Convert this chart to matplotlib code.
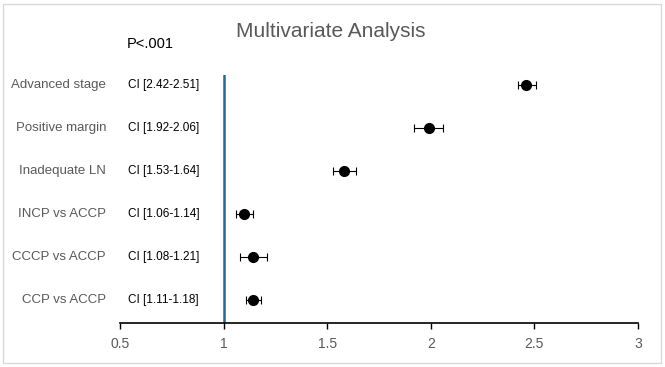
import matplotlib
matplotlib.use('Agg')
import matplotlib.pyplot as plt
from matplotlib.patches import Rectangle

# Dados (de baixo para cima)
categorias = ["CCP vs ACCP", "CCCP vs ACCP", "INCP vs ACCP",
              "Inadequate LN", "Positive margin", "Advanced stage"]
odds = [1.14, 1.14, 1.10, 1.58, 1.99, 2.46]
ci_low = [1.11, 1.08, 1.06, 1.53, 1.92, 2.42]
ci_high = [1.18, 1.21, 1.14, 1.64, 2.06, 2.51]
ci_textos = ["CI [1.11-1.18]", "CI [1.08-1.21]", "CI [1.06-1.14]",
             "CI [1.53-1.64]", "CI [1.92-2.06]", "CI [2.42-2.51]"]
x_ticks = [0.5, 1, 1.5, 2, 2.5, 3]

plt.rcParams['font.family'] = ['Liberation Sans', 'DejaVu Sans']

fig = plt.figure(figsize=(6.65, 3.67), dpi=100)
ax = fig.add_axes([0.1805, 0.119, 0.7789, 0.677])

y = list(range(1, len(categorias) + 1))
erro = [[o - l for o, l in zip(odds, ci_low)], [h - o for o, h in zip(odds, ci_high)]]
ax.errorbar(odds, y, xerr=erro, fmt='o', color='black', markersize=7,
            elinewidth=0.8, capsize=3, capthick=0.8, zorder=3)
ax.axvline(1, color='#1f6b96', linewidth=1.8, zorder=2)

ax.set_xlim(0.5, 3)
ax.set_ylim(0.46, 6.23)
ax.set_xticks(x_ticks)
ax.set_xticklabels([f"{t:g}" for t in x_ticks])
ax.tick_params(axis='x', direction='out', length=4, width=1, colors='black',
               labelcolor='#595959', labelsize=10, pad=6)
ax.set_yticks([])
for s in ['top', 'right', 'left']:
    ax.spines[s].set_visible(False)
ax.spines['bottom'].set_linewidth(1.2)

# Rótulos das categorias e intervalos de confiança
for yi, cat, ci in zip(y, categorias, ci_textos):
    ax.annotate(cat, xy=(0, yi), xycoords=('axes fraction', 'data'),
                xytext=(-14, 0), textcoords='offset pixels',
                ha='right', va='center', fontsize=9.5, color='#595959')
    ax.annotate(ci, xy=(0, yi), xycoords=('axes fraction', 'data'),
                xytext=(8, 0), textcoords='offset pixels',
                ha='left', va='center', fontsize=8.5, color='black')

fig.text(0.497, 0.915, "Multivariate Analysis", ha='center', va='center',
         fontsize=15, color='#595959')
fig.text(0.19, 0.88, "P<.001", ha='left', va='center', fontsize=10.5, color='black')

fig.patches.append(Rectangle((0.004, 0.012), 0.99, 0.978, transform=fig.transFigure,
                             fill=False, edgecolor='#d9d9d9', linewidth=1))

fig.savefig("out.png", dpi=100)
